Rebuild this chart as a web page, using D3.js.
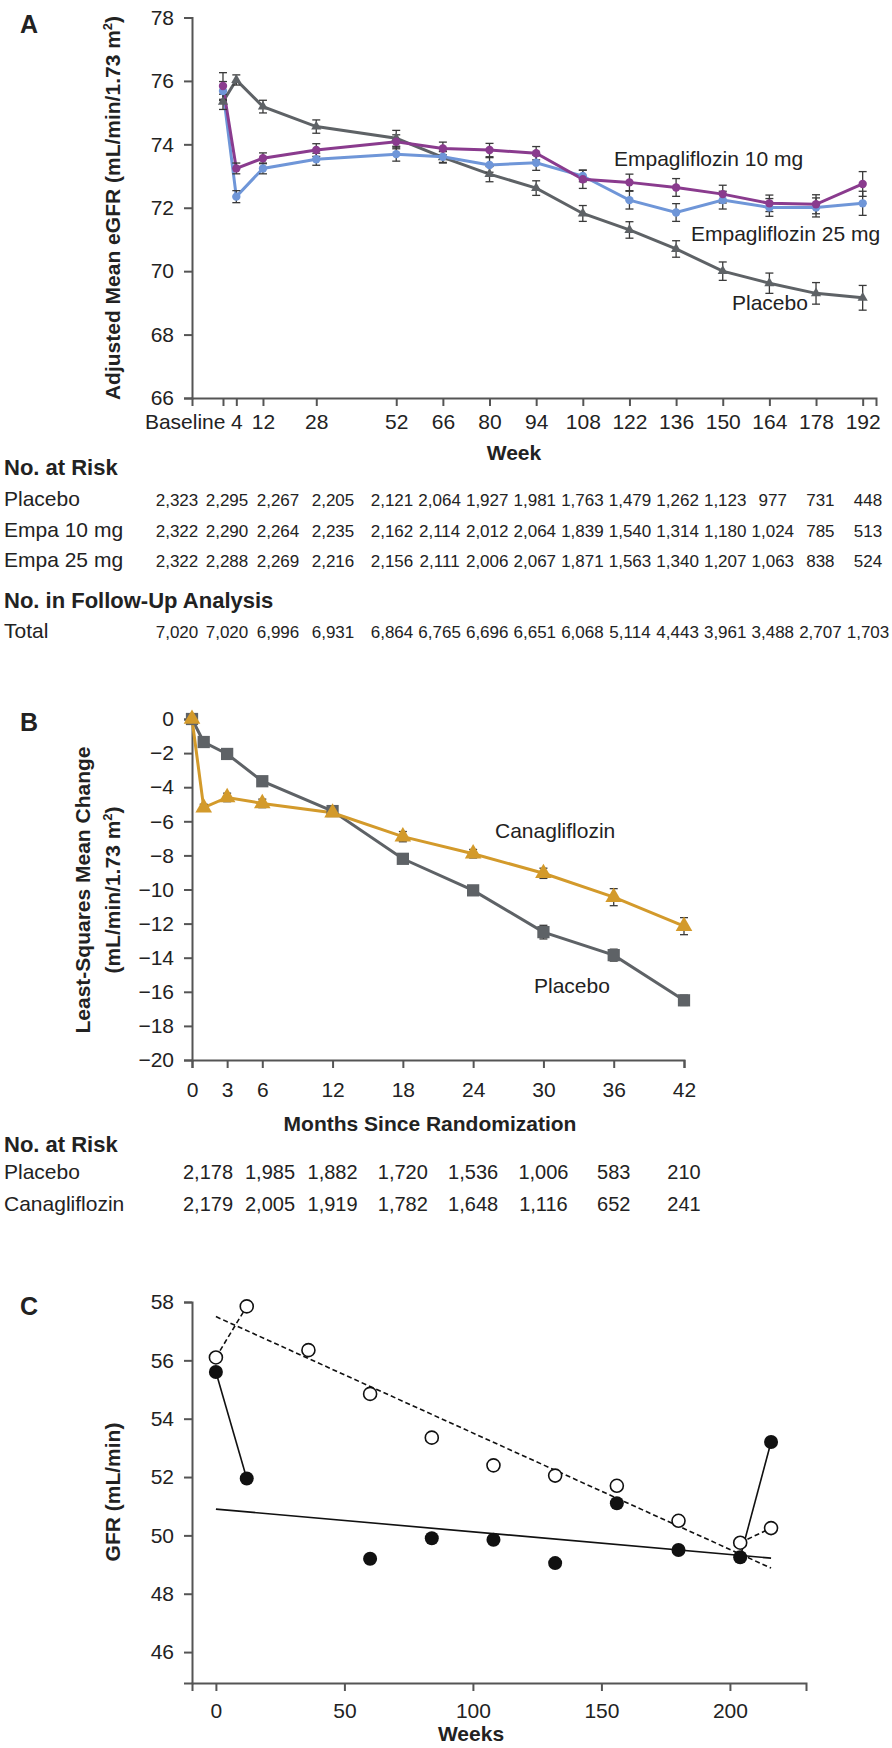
<!DOCTYPE html>
<html><head><meta charset="utf-8">
<script src="https://cdn.jsdelivr.net/npm/d3@7"></script>
<style>
body{margin:0;background:#fff}
svg{display:block;font-family:"Liberation Sans",Arial,Helvetica,sans-serif;fill:#222}
</style>
</head><body>
<svg id="chart" width="892" height="1748"></svg>
<script>
// ---------------- DATA ----------------
// Panel A
const weeksA = [0,4,12,28,52,66,80,94,108,122,136,150,164,178,192];
const weekTickLabels = ["Baseline","4","12","28","52","66","80","94","108","122","136","150","164","178","192"];
const placeboA = [75.34,76.03,75.19,74.56,74.19,73.59,73.06,72.62,71.82,71.3,70.7,70.0,69.62,69.3,69.16];
const placeboAErr = [0.24,0.16,0.2,0.21,0.25,0.18,0.24,0.23,0.25,0.26,0.26,0.29,0.32,0.34,0.39];
const empa10A = [75.84,73.24,73.56,73.82,74.08,73.87,73.82,73.72,72.9,72.8,72.64,72.43,72.14,72.11,72.75];
const empa10AErr = [0.42,0.17,0.17,0.2,0.22,0.2,0.21,0.21,0.29,0.26,0.28,0.28,0.26,0.3,0.39];
const empa25A = [75.68,72.35,73.24,73.53,73.69,73.61,73.35,73.42,73.0,72.24,71.85,72.24,72.01,72.01,72.14];
const empa25AErr = [0.3,0.19,0.17,0.19,0.22,0.18,0.23,0.24,0.18,0.28,0.28,0.28,0.28,0.3,0.38];
const yTicksA = [66,68,70,72,74,76,78];

const riskRowsA = ["Placebo","Empa 10 mg","Empa 25 mg"];
const riskPlaceboA = ["2,323","2,295","2,267","2,205","2,121","2,064","1,927","1,981","1,763","1,479","1,262","1,123","977","731","448"];
const riskEmpa10A  = ["2,322","2,290","2,264","2,235","2,162","2,114","2,012","2,064","1,839","1,540","1,314","1,180","1,024","785","513"];
const riskEmpa25A  = ["2,322","2,288","2,269","2,216","2,156","2,111","2,006","2,067","1,871","1,563","1,340","1,207","1,063","838","524"];
const followUpTotal = ["7,020","7,020","6,996","6,931","6,864","6,765","6,696","6,651","6,068","5,114","4,443","3,961","3,488","2,707","1,703"];

// Panel B
const monthsB = [0,1,3,6,12,18,24,30,36,42];
const monthTicksB = [0,3,6,12,18,24,30,36,42];
const placeboB = [0,-1.35,-2.05,-3.65,-5.4,-8.2,-10.05,-12.5,-13.85,-16.5];
const placeboBErr = [0.15,0.2,0.2,0.2,0.2,0.25,0.25,0.4,0.35,0.3];
const canaB = [0,-5.2,-4.6,-4.95,-5.5,-6.9,-7.9,-9.05,-10.45,-12.15];
const canaBErr = [0.15,0.2,0.25,0.25,0.2,0.3,0.25,0.3,0.5,0.5];
const yTicksB = [0,-2,-4,-6,-8,-10,-12,-14,-16,-18,-20];
const riskRowsB = ["Placebo","Canagliflozin"];
const riskMonthsB = [0,6,12,18,24,30,36,42];
const riskPlaceboB = ["2,178","1,985","1,882","1,720","1,536","1,006","583","210"];
const riskCanaB    = ["2,179","2,005","1,919","1,782","1,648","1,116","652","241"];

// Panel C
const filledWeeks = [0,12,60,84,108,132,156,180,204,216];
const filledGFR   = [55.6,51.95,49.2,49.9,49.85,49.05,51.1,49.5,49.25,53.2];
const openWeeks   = [0,12,36,60,84,108,132,156,180,204,216];
const openGFR     = [56.1,57.85,56.35,54.85,53.35,52.4,52.05,51.7,50.5,49.75,50.25];
const regFilled   = [[0,50.9],[216,49.22]];
const regOpen     = [[0,57.5],[216,48.88]];
const xTicksC = [0,50,100,150,200];
const yTicksC = [46,48,50,52,54,56,58];

// ---------------- STYLE / LAYOUT ----------------
const AXIS = "#555", TXT = "#222";
const cGray = "#5e6266", cPurple = "#8a3b8e", cBlue = "#6f96d8", cOrange = "#d39a2b";
const FS = 21;

const svg = d3.select("#chart");

function styleAxis(g){
  g.selectAll(".domain").attr("stroke",AXIS).attr("stroke-width",2);
  g.selectAll(".tick line").attr("stroke",AXIS).attr("stroke-width",2);
  g.selectAll(".tick text").attr("fill",TXT).attr("font-size",FS).attr("font-family",null);
}
function errBars(g, xs, ys, es, x, y, color){
  xs.forEach((d,i)=>{
    const cx = x(d), y1 = y(ys[i]-es[i]), y2 = y(ys[i]+es[i]);
    g.append("line").attr("x1",cx).attr("x2",cx).attr("y1",y1).attr("y2",y2).attr("stroke",color).attr("stroke-width",1.3);
    [y1,y2].forEach(yy=>g.append("line").attr("x1",cx-4).attr("x2",cx+4).attr("y1",yy).attr("y2",yy).attr("stroke",color).attr("stroke-width",1.3));
  });
}
function panelLabel(t,x,y){ svg.append("text").attr("x",x).attr("y",y).attr("font-size",25).attr("font-weight","bold").attr("fill",TXT).text(t); }

// ---------------- PANEL A ----------------
{
  const x = d3.scaleLinear().domain([-9.3,196]).range([192,876]);
  const y = d3.scaleLinear().domain([66,78]).range([398,17.5]);
  const g = svg.append("g");
  const ax = g.append("g").attr("transform","translate(0,398)")
    .call(d3.axisBottom(x).tickValues(weeksA).tickSize(8).tickPadding(8).tickFormat((d,i)=>weekTickLabels[i]));
  styleAxis(ax);
  ax.selectAll(".tick text").filter((d,i)=>i===0).attr("text-anchor","end").attr("dx",2);
  const ay = g.append("g").attr("transform","translate(192,0)")
    .call(d3.axisLeft(y).tickValues(yTicksA).tickSize(8).tickPadding(10));
  styleAxis(ay);
  panelLabel("A",20,33);
  const yl = g.append("text").attr("transform","translate(120,208) rotate(-90)").attr("text-anchor","middle")
    .attr("font-size",FS).attr("font-weight","bold").attr("fill",TXT);
  yl.append("tspan").text("Adjusted Mean eGFR (mL/min/1.73 m");
  yl.append("tspan").attr("dy",-8).attr("font-size",13).text("2");
  yl.append("tspan").attr("dy",8).text(")");
  g.append("text").attr("x",514).attr("y",460).attr("text-anchor","middle").attr("font-size",FS).attr("font-weight","bold").attr("fill",TXT).text("Week");

  const series = [
    {v:placeboA,e:placeboAErr,c:cGray,m:"tri"},
    {v:empa25A,e:empa25AErr,c:cBlue,m:"dot"},
    {v:empa10A,e:empa10AErr,c:cPurple,m:"dot"}
  ];
  const line = d3.line().x((d,i)=>x(weeksA[i])).y(d=>y(d));
  series.forEach(s=>{
    g.append("path").datum(s.v).attr("d",line).attr("fill","none").attr("stroke",s.c).attr("stroke-width",3);
  });
  series.forEach(s=>{
    errBars(g.append("g"), weeksA, s.v, s.e, x, y, "#3a3a3a");
  });
  series.forEach(s=>{
    const sym = s.m==="tri" ? d3.symbolTriangle : d3.symbolCircle;
    g.append("g").selectAll("path").data(s.v).join("path")
      .attr("transform",(d,i)=>`translate(${x(weeksA[i])},${y(d)})`)
      .attr("d",d3.symbol().type(sym).size(s.m==="tri"?45:55)).attr("fill",s.c);
  });
  g.append("text").attr("x",614).attr("y",166).attr("font-size",FS).attr("fill",TXT).text("Empagliflozin 10 mg");
  g.append("text").attr("x",691).attr("y",241).attr("font-size",FS).attr("fill",TXT).text("Empagliflozin 25 mg");
  g.append("text").attr("x",732).attr("y",310).attr("font-size",FS).attr("fill",TXT).text("Placebo");

  // risk table
  const colXA = weeksA.map((w,i)=> i<4 ? [177,227,278,333][i] : 392 + 47.6*(i-4));
  const hdr = (t,yy)=>g.append("text").attr("x",4).attr("y",yy).attr("font-size",22).attr("font-weight","bold").attr("fill",TXT).text(t);
  const row = (label,vals,yy)=>{
    g.append("text").attr("x",4).attr("y",yy).attr("font-size",FS).attr("fill",TXT).text(label);
    g.append("g").selectAll("text").data(vals).join("text").attr("x",(d,i)=>colXA[i]).attr("y",yy)
      .attr("text-anchor","middle").attr("font-size",17).attr("fill",TXT).text(d=>d);
  };
  hdr("No. at Risk",475);
  [riskPlaceboA,riskEmpa10A,riskEmpa25A].forEach((r,k)=>row(riskRowsA[k],r,[506,537,567][k]));
  hdr("No. in Follow-Up Analysis",608);
  row("Total",followUpTotal,638);
}

// ---------------- PANEL B ----------------
{
  const x = d3.scaleLinear().domain([0,42]).range([192,684]);
  const y = d3.scaleLinear().domain([-20,0]).range([1060,719]);
  const g = svg.append("g");
  const ax = g.append("g").attr("transform","translate(0,1060)")
    .call(d3.axisBottom(x).tickValues(monthTicksB).tickSize(8).tickPadding(14));
  styleAxis(ax);
  const ay = g.append("g").attr("transform","translate(192,0)")
    .call(d3.axisLeft(y).tickValues(yTicksB).tickSize(8).tickPadding(10));
  styleAxis(ay);
  panelLabel("B",20,731);
  g.append("text").attr("transform","translate(90,890) rotate(-90)").attr("text-anchor","middle")
    .attr("font-size",FS).attr("font-weight","bold").attr("fill",TXT).text("Least-Squares Mean Change");
  const yl = g.append("text").attr("transform","translate(120,890) rotate(-90)").attr("text-anchor","middle")
    .attr("font-size",FS).attr("font-weight","bold").attr("fill",TXT);
  yl.append("tspan").text("(mL/min/1.73 m");
  yl.append("tspan").attr("dy",-8).attr("font-size",13).text("2");
  yl.append("tspan").attr("dy",8).text(")");
  g.append("text").attr("x",430).attr("y",1131).attr("text-anchor","middle").attr("font-size",FS).attr("font-weight","bold").attr("fill",TXT).text("Months Since Randomization");

  const line = d3.line().x((d,i)=>x(monthsB[i])).y(d=>y(d));
  g.append("path").datum(placeboB).attr("d",line).attr("fill","none").attr("stroke",cGray).attr("stroke-width",3);
  g.append("path").datum(canaB).attr("d",line).attr("fill","none").attr("stroke",cOrange).attr("stroke-width",3);
  errBars(g.append("g"), monthsB, placeboB, placeboBErr, x, y, "#3a3a3a");
  errBars(g.append("g"), monthsB, canaB, canaBErr, x, y, "#3a3a3a");
  g.append("g").selectAll("path").data(placeboB).join("path")
    .attr("transform",(d,i)=>`translate(${x(monthsB[i])},${y(d)})`)
    .attr("d",d3.symbol().type(d3.symbolSquare).size(150)).attr("fill",cGray);
  g.append("g").selectAll("path").data(canaB).join("path")
    .attr("transform",(d,i)=>`translate(${x(monthsB[i])},${y(d)})`)
    .attr("d",d3.symbol().type(d3.symbolTriangle).size(120)).attr("fill",cOrange);
  g.append("text").attr("x",495).attr("y",838).attr("font-size",FS).attr("fill",TXT).text("Canagliflozin");
  g.append("text").attr("x",534).attr("y",993).attr("font-size",FS).attr("fill",TXT).text("Placebo");

  const colXB = riskMonthsB.map((m,i)=> i===0 ? 208 : i===1 ? 270 : x(m));
  g.append("text").attr("x",4).attr("y",1152).attr("font-size",22).attr("font-weight","bold").attr("fill",TXT).text("No. at Risk");
  [riskPlaceboB,riskCanaB].forEach((r,k)=>{
    const yy = [1179,1211][k];
    g.append("text").attr("x",4).attr("y",yy).attr("font-size",FS).attr("fill",TXT).text(riskRowsB[k]);
    g.append("g").selectAll("text").data(r).join("text").attr("x",(d,i)=>colXB[i]).attr("y",yy)
      .attr("text-anchor","middle").attr("font-size",20).attr("fill",TXT).text(d=>d);
  });
}

// ---------------- PANEL C ----------------
{
  const x = d3.scaleLinear().domain([-9.3,229.6]).range([192,806]);
  const y = d3.scaleLinear().domain([44.94,58]).range([1683,1302]);
  const g = svg.append("g");
  const ax = g.append("g").attr("transform","translate(0,1683)")
    .call(d3.axisBottom(x).tickValues(xTicksC).tickSize(8).tickPadding(12));
  styleAxis(ax);
  const ay = g.append("g").attr("transform","translate(192,0)")
    .call(d3.axisLeft(y).tickValues(yTicksC).tickSize(8).tickPadding(10));
  styleAxis(ay);
  panelLabel("C",20,1315);
  g.append("text").attr("transform","translate(120,1492) rotate(-90)").attr("text-anchor","middle")
    .attr("font-size",FS).attr("font-weight","bold").attr("fill",TXT).text("GFR (mL/min)");
  g.append("text").attr("x",471).attr("y",1741).attr("text-anchor","middle").attr("font-size",FS).attr("font-weight","bold").attr("fill",TXT).text("Weeks");

  const ln = d3.line().x(d=>x(d[0])).y(d=>y(d[1]));
  const n = filledWeeks.length, m = openWeeks.length;
  const fpts = filledWeeks.map((w,i)=>[w,filledGFR[i]]);
  const opts = openWeeks.map((w,i)=>[w,openGFR[i]]);
  [fpts.slice(0,2), fpts.slice(n-2)].forEach(s=>g.append("path").attr("d",ln(s)).attr("fill","none").attr("stroke","#111").attr("stroke-width",1.6));
  [opts.slice(0,2), opts.slice(m-2)].forEach(s=>g.append("path").attr("d",ln(s)).attr("fill","none").attr("stroke","#111").attr("stroke-width",1.6).attr("stroke-dasharray","5,3"));
  g.append("path").attr("d",ln(regFilled)).attr("fill","none").attr("stroke","#111").attr("stroke-width",1.6);
  g.append("path").attr("d",ln(regOpen)).attr("fill","none").attr("stroke","#111").attr("stroke-width",1.6).attr("stroke-dasharray","5,3");
  g.append("g").selectAll("circle").data(opts).join("circle").attr("cx",d=>x(d[0])).attr("cy",d=>y(d[1])).attr("r",6.5)
    .attr("fill","#fff").attr("stroke","#111").attr("stroke-width",1.6);
  g.append("g").selectAll("circle").data(fpts).join("circle").attr("cx",d=>x(d[0])).attr("cy",d=>y(d[1])).attr("r",7)
    .attr("fill","#111");
}
</script>
</body></html>
